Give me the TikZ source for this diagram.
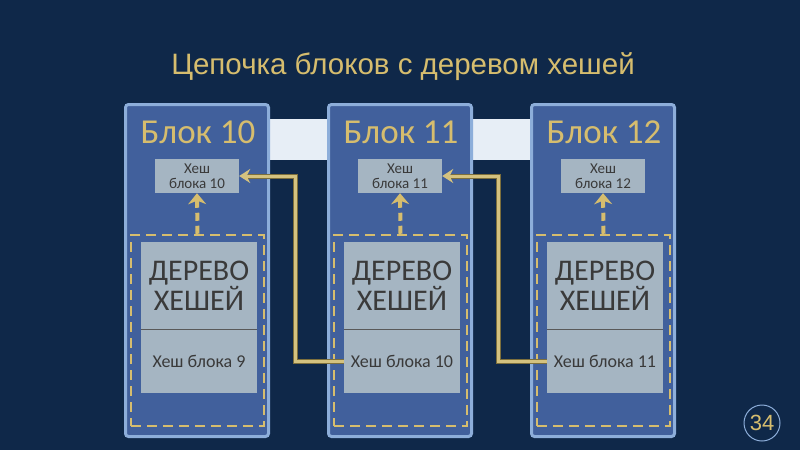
\documentclass[tikz,border=0pt]{standalone}
\usepackage{fontspec}
\setmainfont{Liberation Sans}
\newfontfamily\blockfont{Carlito}
\usetikzlibrary{positioning, arrows.meta}

\definecolor{navy}{HTML}{0F2849}
\definecolor{blockfill}{HTML}{41609C}
\definecolor{blockline}{HTML}{8DAEDA}
\definecolor{gold}{HTML}{D6BD6E}
\definecolor{boxfill}{HTML}{A5B5C2}
\definecolor{textgray}{HTML}{3A3A3A}
\definecolor{band}{HTML}{E7EEF6}
\definecolor{linkedge}{HTML}{7D6F3C}
\definecolor{linkgold}{HTML}{D4C27F}

\begin{document}
\begin{tikzpicture}[x=1pt,y=-1pt,
  block/.style={draw=blockline, fill=blockfill, line width=3pt, rounded corners=3pt,
    minimum width=143pt, minimum height=332pt},
  blocktitle/.style={text=gold, font=\blockfont\fontsize{35}{40}\selectfont, inner sep=0pt},
  hashbox/.style={fill=boxfill, text=textgray, minimum width=84pt, minimum height=34pt,
    inner sep=0pt, align=center, font=\blockfont\fontsize{15}{15}\selectfont},
  treeframe/.style={draw=gold, line width=2.5pt, dash pattern=on 10pt off 6pt,
    minimum width=133pt, minimum height=191pt},
  treetop/.style={fill=boxfill, text=textgray, minimum width=116pt, minimum height=87pt,
    inner sep=0pt, align=center, font=\blockfont\fontsize{30}{30}\selectfont},
  treebot/.style={fill=boxfill, text=textgray, minimum width=116pt, minimum height=64pt,
    inner sep=0pt, font=\blockfont\fontsize{18}{20}\selectfont},
  divider/.style={draw=gray!70!black, line width=0.8pt},
  dasharrow/.style={draw=gold, line width=4pt, dash pattern=on 8pt off 5pt,
    -{Stealth[length=11pt,width=18pt]}},
  link/.style={draw=linkgold, line width=3pt, -{Stealth[length=11pt,width=14pt]},
    preaction={draw=linkedge, line width=5pt, -{}, shorten >=9pt}}]

\fill[navy] (0,0) rectangle (800,450);
\useasboundingbox (0,0) rectangle (800,450);

\node[text=gold, font=\fontsize{29.5}{34}\selectfont] (title) at (403,67) {Цепочка блоков с деревом хешей};

% band behind the chain
\fill[band] (197,119) rectangle (603,160);

% blocks
\node[block] (b10) at (197,270.5) {};
\node[block] (b11) at (400,270.5) {};
\node[block] (b12) at (603,270.5) {};

\node[blocktitle] (l10) at (198,132) {Блок 10};
\node[blocktitle] (l11) at (401,132) {Блок 11};
\node[blocktitle] (l12) at (604,132) {Блок 12};

\node[hashbox] (h10) at (197,176) {Хеш\\блока 10};
\node[hashbox] (h11) at (400,176) {Хеш\\блока 11};
\node[hashbox] (h12) at (603,176) {Хеш\\блока 12};

% hash trees
\node[treeframe] (f10) at (197.5,330.5) {};
\node[treeframe] (f11) at (400.5,330.5) {};
\node[treeframe] (f12) at (603.5,330.5) {};

\node[treetop] (t10) at (199,285.5) {ДЕРЕВО\\ХЕШЕЙ};
\node[treebot] (p10) [below=0pt of t10] {Хеш блока 9};
\node[treetop] (t11) at (402,285.5) {ДЕРЕВО\\ХЕШЕЙ};
\node[treebot] (p11) [below=0pt of t11] {Хеш блока 10};
\node[treetop] (t12) at (605,285.5) {ДЕРЕВО\\ХЕШЕЙ};
\node[treebot] (p12) [below=0pt of t12] {Хеш блока 11};

\draw[divider] (t10.south west) -- (t10.south east);
\draw[divider] (t11.south west) -- (t11.south east);
\draw[divider] (t12.south west) -- (t12.south east);

\draw[dasharrow] (f10.north) -- (h10.south);
\draw[dasharrow] (f11.north) -- (h11.south);
\draw[dasharrow] (f12.north) -- (h12.south);

% links to previous block
\draw[link] (p11.west) -- ++(-48,0) |- (h10.east);
\draw[link] (p12.west) -- ++(-48,0) |- (h11.east);

\node[circle, draw=blockline, line width=1pt, minimum size=36pt, inner sep=0pt,
  text=gold, font=\fontsize{22}{24}\selectfont] (page) at (762,423) {34};
\end{tikzpicture}
\end{document}
